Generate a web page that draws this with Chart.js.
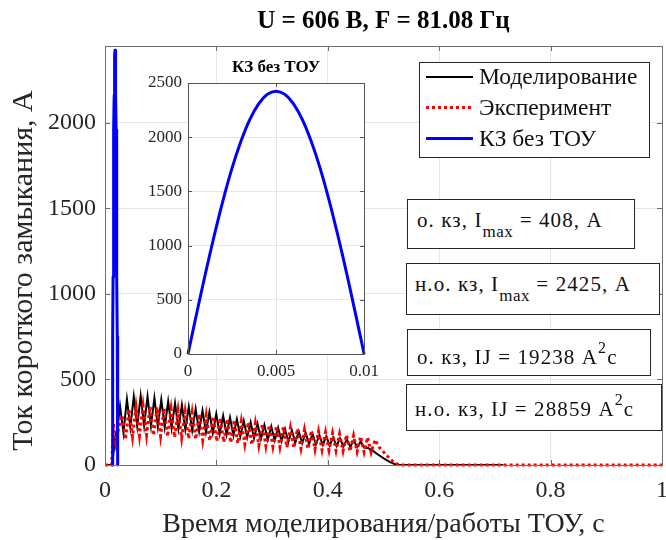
<!DOCTYPE html>
<html>
<head>
<meta charset="utf-8">
<script src="https://cdn.jsdelivr.net/npm/chart.js@4.4.1/dist/chart.umd.min.js"></script>
<style>
html,body{margin:0;padding:0;background:#fff;}
#wrap{position:relative;width:666px;height:540px;overflow:hidden;background:#fff;}
#main{position:absolute;left:0;top:0;}
#inset{position:absolute;left:130px;top:50px;}
.box{position:absolute;background:#fff;border:1px solid #262626;box-sizing:border-box;font-family:"Liberation Serif",serif;color:#111;white-space:nowrap;}
.txt{position:absolute;font-size:21px;line-height:20px;letter-spacing:1.1px;}
.sub{font-size:17px;position:relative;top:10px;letter-spacing:0.5px;}
.sup{font-size:16px;position:relative;top:-11px;}
.row{position:absolute;left:0;height:31px;line-height:31px;font-size:23.5px;}
.ln{position:absolute;left:6px;width:47px;}
.lab{position:absolute;left:59px;top:0;}
</style>
</head>
<body>
<div id="wrap">
  <canvas id="main" width="666" height="540"></canvas>
  <canvas id="inset" width="256" height="335"></canvas>

  <div class="box" id="legend" style="left:419px;top:62px;width:231px;height:96px;">
    <div class="row" style="top:-2px;width:229px;"><div class="ln" style="top:15px;height:2px;background:#000;"></div><span class="lab">Моделирование</span></div>
    <div class="row" style="top:29px;width:229px;"><div class="ln" style="top:14px;height:3px;background:repeating-linear-gradient(to right,#ff0000 0 3px,transparent 3px 6px);"></div><span class="lab">Эксперимент</span></div>
    <div class="row" style="top:60px;width:229px;"><div class="ln" style="top:14px;height:3px;background:#0000ff;"></div><span class="lab">КЗ без ТОУ</span></div>
  </div>

  <div class="box" style="left:407px;top:199px;width:228px;height:50px;">
    <div class="txt" style="left:9px;top:10px;">о. кз, I<span class="sub">max</span> = 408, А</div>
  </div>
  <div class="box" style="left:406px;top:263px;width:254px;height:52px;">
    <div class="txt" style="left:8px;top:10px;">н.о. кз, I<span class="sub">max</span> = 2425, А</div>
  </div>
  <div class="box" style="left:407px;top:329px;width:244px;height:47px;">
    <div class="txt" style="left:9px;top:17px;">о. кз, IJ = 19238 А<span class="sup">2</span>с</div>
  </div>
  <div class="box" style="left:406px;top:384px;width:256px;height:47px;">
    <div class="txt" style="left:8px;top:14px;">н.о. кз, IJ = 28859 А<span class="sup">2</span>с</div>
  </div>
</div>

<script>
// ---------------- DATA ----------------
// Моделирование (simulation): start, peaks/troughs of each oscillation, decay tail
const simHeadT = [0, 0.013, 0.018, 0.022];
const simHeadI = [0, 0, 160, 210];
const simOscStart = 0.027;      // s, first peak
const simHalfPeriod = 0.00617;  // s, peak -> trough spacing (F = 81.08 Hz)
const simPeaks   = [345,385,400,405,400,392,382,372,362,350,340,328,318,308,298,288,278,268,258,250,242,234,226,218,210,203,196,189,182,175,168,162,156,150,144,138];
const simTroughs = [190,220,228,230,228,225,221,217,212,207,202,197,192,187,182,177,172,167,162,157,152,147,143,139,135,131,127,123,120,117,114,111,108,106,104,102];
const simTailT = [0.472,0.480,0.488,0.496,0.504,0.512,0.520,0.527,0.715];
const simTailI = [100,85,66,48,31,17,6,0,0];

// Эксперимент (experiment)
const expHeadT = [0, 0.012, 0.015, 0.019, 0.024];
const expHeadI = [0, 0, 240, 130, 210];
const expOscStart = 0.0305;
const expHalfPeriod = 0.0063;
const expPeaks   = [290,325,340,345,342,337,331,325,318,311,304,297,290,283,276,269,262,256,250,244,238,232,227,222,217,212,207,202,197,192,187,182,177,172,167,162];
const expTroughs = [150,165,172,175,173,170,166,162,158,154,150,146,142,138,134,130,126,122,118,115,112,109,106,103,100,97,94,91,88,86,84,82,80,78,76,74];
const expTailT = [0.485,0.492,0.499,0.506,0.513,0.520,0.527,0.532,1.0];
const expTailI = [148,105,80,55,32,14,3,0,0];

// КЗ без ТОУ (short circuit without device): one half-wave
const pulseT = [0,0.0005,0.001,0.0015,0.002,0.0025,0.003,0.0035,0.004,0.0045,0.005,0.0055,0.006,0.0065,0.007,0.0075,0.008,0.0085,0.009,0.0095,0.01];
const pulseI = [0,380,750,1100,1425,1715,1960,2160,2305,2395,2425,2395,2305,2160,1960,1715,1425,1100,750,380,0];
const pulseOnset = 0.013; // s, where the half-wave starts on the main time axis

const xTicksMain = [0,0.2,0.4,0.6,0.8,1];
const yTicksMain = [0,500,1000,1500,2000];
const xTicksInset = [0,0.005,0.01];

// ---------------- build point lists ----------------
function pairs(ts, vs, off){ return ts.map((t,i)=>({x:+(t+(off||0)).toFixed(6), y:vs[i]})); }
function osc(start, half, peaks, troughs){
  const pts=[];
  for(let i=0;i<peaks.length;i++){
    pts.push({x:start+2*i*half, y:peaks[i]});
    pts.push({x:start+(2*i+1)*half, y:troughs[i]});
  }
  return pts;
}
const simData = [].concat(pairs(simHeadT,simHeadI), osc(simOscStart,simHalfPeriod,simPeaks,simTroughs), pairs(simTailT,simTailI));
const expData = [].concat(pairs(expHeadT,expHeadI), osc(expOscStart,expHalfPeriod,expPeaks,expTroughs), pairs(expTailT,expTailI));
const pulseMain = pairs(pulseT, pulseI, pulseOnset);
const pulseInset = pairs(pulseT, pulseI, 0);

const SERIF = "'Liberation Serif', 'Times New Roman', serif";
const TXT = '#262626';
const GRID = '#e6e6e6';
const AX = '#6e6e6e';

function fmt(v){ return String(parseFloat(Number(v).toFixed(4))); }

const framePlugin = {
  id:'frame',
  beforeDraw(chart, args, opts){
    if(opts.fill){
      const a=chart.chartArea, c=chart.ctx;
      c.save(); c.fillStyle='#fff'; c.fillRect(a.left,a.top,a.right-a.left,a.bottom-a.top); c.restore();
    }
  },
  afterDraw(chart, args, opts){
    const a=chart.chartArea, c=chart.ctx, L=opts.tick||5;
    c.save();
    c.strokeStyle=opts.color||AX; c.lineWidth=1;
    c.beginPath();
    const xs=chart.scales.x, ys=chart.scales.y;
    xs.ticks.forEach(t=>{ const p=Math.round(xs.getPixelForValue(t.value))+0.5;
      c.moveTo(p,a.bottom); c.lineTo(p,a.bottom-L); c.moveTo(p,a.top); c.lineTo(p,a.top+L); });
    ys.ticks.forEach(t=>{ const p=Math.round(ys.getPixelForValue(t.value))+0.5;
      c.moveTo(a.left,p); c.lineTo(a.left+L,p); c.moveTo(a.right,p); c.lineTo(a.right-L,p); });
    c.stroke();
    c.strokeRect(Math.round(a.left)+0.5, Math.round(a.top)+0.5, Math.round(a.right-a.left), Math.round(a.bottom-a.top));
    c.restore();
  }
};

new Chart(document.getElementById('main'), {
  type:'line',
  data:{datasets:[
    {label:'Моделирование', data:simData, borderColor:'#000000', borderWidth:2, pointRadius:0, tension:0, order:3, clip:8},
    {label:'Эксперимент', data:expData, borderColor:'#ff0000', borderWidth:3, borderDash:[3,3], pointRadius:0, tension:0, order:2, clip:8},
    {label:'КЗ без ТОУ', data:pulseMain, borderColor:'#0000ff', borderWidth:3, borderJoinStyle:'round', pointRadius:0, tension:0, order:1, clip:8}
  ]},
  options:{
    responsive:false, animation:false, devicePixelRatio:1,
    layout:{padding:{left:0,right:4,top:0,bottom:0}},
    plugins:{
      legend:{display:false}, tooltip:{enabled:false},
      title:{display:true, fullSize:false, text:'U = 606 В, F = 81.08 Гц', color:'#000',
        font:{family:SERIF,size:25,weight:'bold',lineHeight:1.2}, padding:{top:7,bottom:9}},
      frame:{color:AX, tick:5}
    },
    scales:{
      x:{type:'linear', min:0, max:1,
        afterBuildTicks:s=>{ s.ticks = xTicksMain.map(v=>({value:v})); },
        ticks:{font:{family:SERIF,size:24}, color:TXT, padding:11, maxRotation:0, callback:v=>fmt(v)},
        grid:{color:GRID, drawTicks:false}, border:{color:AX},
        title:{display:true, text:'Время моделирования/работы ТОУ, с', color:TXT, font:{family:SERIF,size:28}, padding:{top:0,bottom:-1}},
        afterFit:s=>{ s.height=75; s.paddingRight=4; s.paddingLeft=0; }
      },
      y:{min:0, max:2450,
        afterBuildTicks:s=>{ s.ticks = yTicksMain.map(v=>({value:v})); },
        ticks:{font:{family:SERIF,size:24}, color:TXT, padding:9, callback:v=>fmt(v)},
        grid:{color:GRID, drawTicks:false}, border:{color:AX},
        title:{display:true, text:'Ток короткого замыкания, А    ', color:TXT, font:{family:SERIF,size:30}, padding:{top:6,bottom:0}},
        afterFit:s=>{ s.width=105; }
      }
    }
  },
  plugins:[framePlugin]
});

new Chart(document.getElementById('inset'), {
  type:'line',
  data:{datasets:[
    {label:'КЗ без ТОУ', data:pulseInset, borderColor:'#0000ff', borderWidth:3, pointRadius:0, tension:0.3, clip:4}
  ]},
  options:{
    responsive:false, animation:false, devicePixelRatio:1,
    layout:{padding:{left:0,right:17,top:0,bottom:0}},
    plugins:{
      legend:{display:false}, tooltip:{enabled:false},
      title:{display:true, fullSize:false, text:'КЗ без ТОУ', color:'#000',
        font:{family:SERIF,size:17,weight:'bold',lineHeight:1.2}, padding:{top:7.8,bottom:4.8}},
      frame:{color:'#555', tick:4, fill:true}
    },
    scales:{
      x:{type:'linear', min:0, max:0.01,
        afterBuildTicks:s=>{ s.ticks = xTicksInset.map(v=>({value:v})); },
        ticks:{font:{family:SERIF,size:17}, color:TXT, padding:7, maxRotation:0, callback:v=>fmt(v)},
        grid:{color:GRID, drawTicks:false}, border:{color:'#555'},
        afterFit:s=>{ s.height=31; }
      },
      y:{min:0, max:2500,
        ticks:{stepSize:500, font:{family:SERIF,size:17}, color:TXT, padding:6, callback:v=>fmt(v)},
        grid:{color:GRID, drawTicks:false}, border:{color:'#555'},
        afterFit:s=>{ s.width=58; }
      }
    }
  },
  plugins:[framePlugin]
});
</script>
</body>
</html>
